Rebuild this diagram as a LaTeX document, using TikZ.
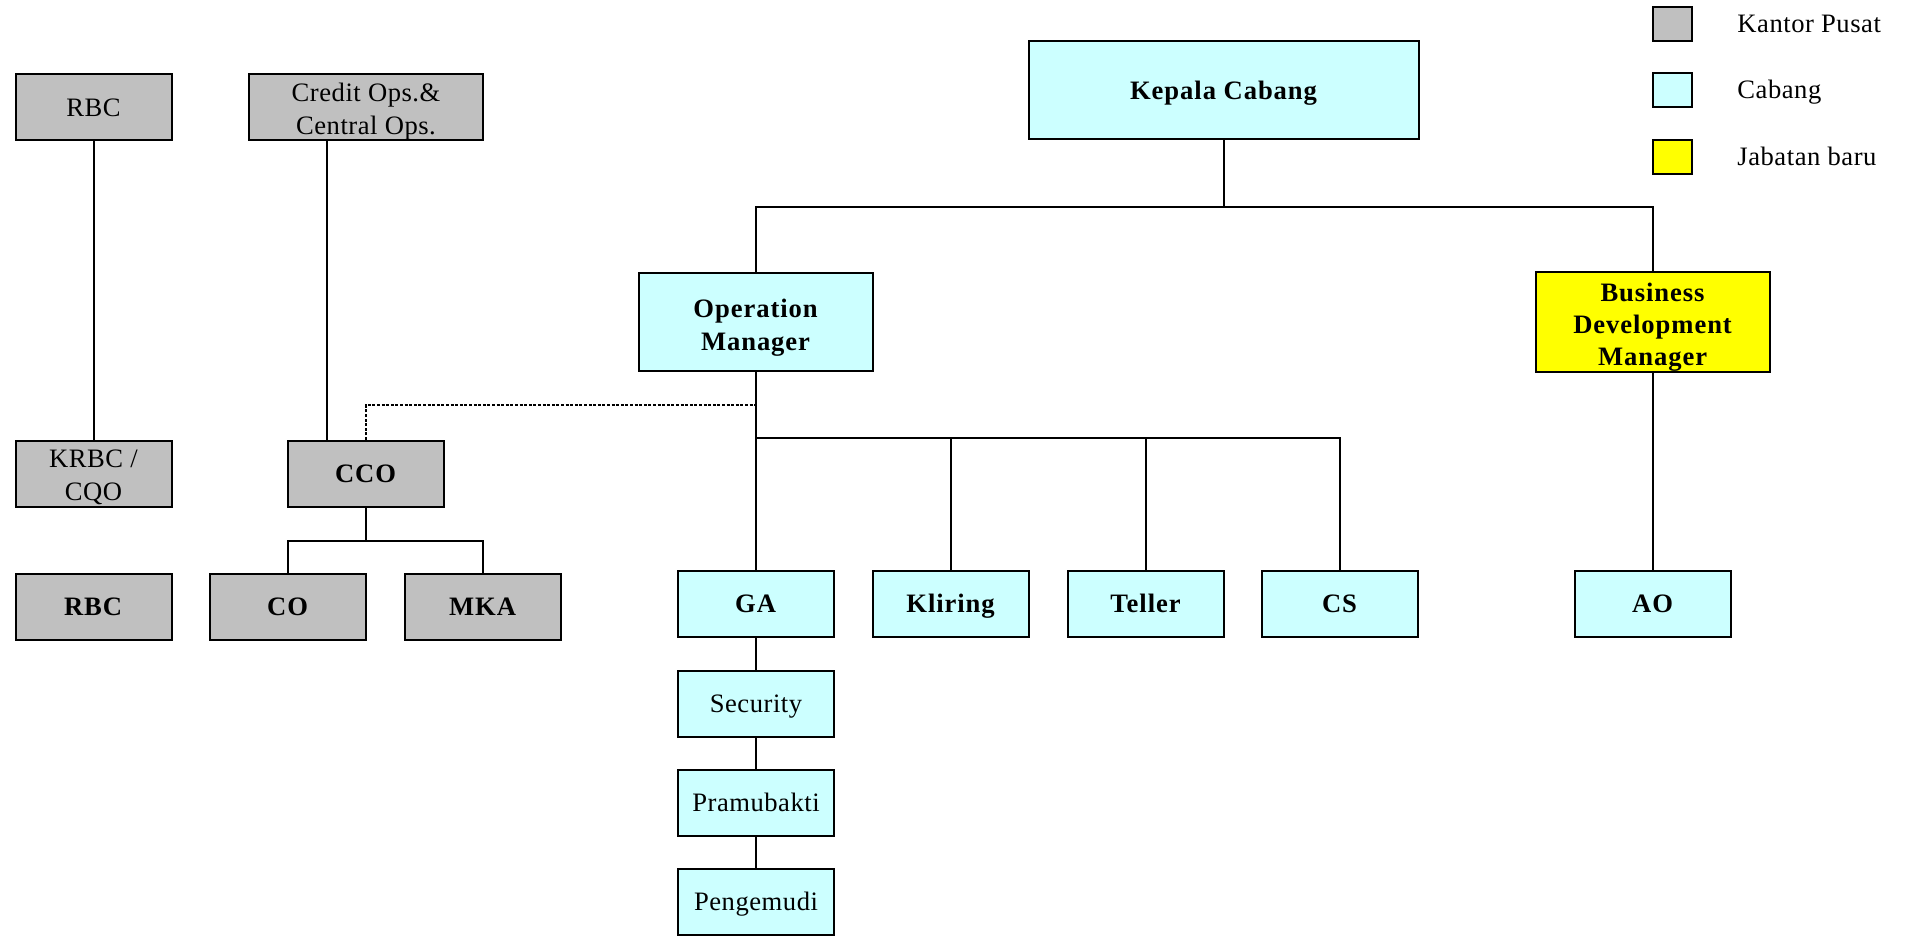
\documentclass[tikz,border=0pt]{standalone}
\usepackage{fontspec}
\setmainfont{Liberation Serif}[LetterSpace=2, BoldFeatures={LetterSpace=3.5}]
\usepackage{tikz}

\definecolor{pusat}{HTML}{C0C0C0}
\definecolor{cabang}{HTML}{CCFFFF}
\definecolor{baru}{HTML}{FFFF00}

% extra room above the first line of a two or three line box
\newcommand\toproom[1][14.6pt]{\rule{0pt}{#1}}

\tikzset{
  struts/.style={execute at begin node={\rule{0pt}{11.8pt}},
    execute at end node={\rule[-3pt]{0pt}{3pt}}},
  unit/.style={draw, line width=1pt, inner sep=0pt, align=center, struts,
    minimum width=78pt, minimum height=33pt,
    font=\fontsize{13.3}{16.5}\selectfont},
  wide/.style={unit, minimum width=117pt, minimum height=49pt},
  hq/.style={unit, fill=pusat},
  br/.style={unit, fill=cabang},
  keybox/.style={draw, line width=1pt, minimum width=19.5pt, minimum height=17pt, inner sep=0pt},
  keytext/.style={anchor=west, inner sep=0pt, struts, font=\fontsize{13.3}{16}\selectfont},
  link/.style={line width=1pt}
}

\begin{document}
\begin{tikzpicture}[x=0.5pt, y=-0.5pt]
	\useasboundingbox (0,0) rectangle (1909,936);

	% legend
	\node [keybox, fill=pusat] (k1) at (1672, 24) {};
	\node [keytext] (k1t) at (1737, 24) {Kantor Pusat};
	\node [keybox, fill=cabang] (k2) at (1672, 90) {};
	\node [keytext] (k2t) at (1737, 90) {Cabang};
	\node [keybox, fill=baru] (k3) at (1672, 157) {};
	\node [keytext] (k3t) at (1737, 157) {Jabatan baru};

	% kantor pusat
	\node [hq] (rbc1) at (93.5, 107.5) {RBC};
	\node [hq, minimum width=117pt] (credit) at (366, 107.5) {\toproom[13.5pt]Credit Ops.\&\\Central Ops.};
	\node [hq] (krbc) at (93.5, 474) {\toproom[13pt]KRBC /\\CQO};
	\node [hq] (cco) at (366, 474) {\textbf{CCO}};
	\node [hq] (rbc2) at (93.5, 606.5) {\textbf{RBC}};
	\node [hq] (co) at (288, 606.5) {\textbf{CO}};
	\node [hq] (mka) at (483, 606.5) {\textbf{MKA}};

	% cabang
	\node [br, minimum width=195pt, minimum height=49pt] (kc) at (1224, 90.5) {\textbf{Kepala Cabang}};
	\node [br, wide] (om) at (756, 322) {\toproom\textbf{Operation}\\\textbf{Manager}};
	\node [wide, fill=baru, font=\fontsize{13.3}{16}\selectfont] (bdm) at (1653, 322)
		{\toproom\textbf{Business}\\\textbf{Development}\\\textbf{Manager}};
	\node [br] (ga) at (756, 604) {\textbf{GA}};
	\node [br] (kliring) at (951, 604) {\textbf{Kliring}};
	\node [br] (teller) at (1146, 604) {\textbf{Teller}};
	\node [br] (cs) at (1340, 604) {\textbf{CS}};
	\node [br] (ao) at (1653, 604) {\textbf{AO}};
	\node [br] (security) at (756, 704) {Security};
	\node [br] (pramu) at (756, 803) {Pramubakti};
	\node [br] (supir) at (756, 902) {Pengemudi};

	\coordinate (kcbus) at (1224, 207);
	\coordinate (ombus) at (756, 438);
	\coordinate (dashj) at (756, 405);
	\coordinate (ccobus) at (366, 541);

	% lines
	\draw [link] (rbc1) -- (krbc);
	\draw [link] ([xshift=-19.5pt]credit.south) -- ([xshift=-19.5pt]cco.north);
	\draw [link] (cco) -- (ccobus);
	\draw [link] (co.north) |- (ccobus) -| (mka.north);
	\draw [link, dash pattern=on 1.5pt off 0.8pt] (cco.north) |- (dashj);

	\draw [link] (kc) -- (kcbus);
	\draw [link] (om.north) |- (kcbus) -| (bdm.north);
	\draw [link] (om) -- (ga);
	\draw [link] (ombus) -| (cs.north);
	\draw [link] (ombus -| kliring) -- (kliring.north);
	\draw [link] (ombus -| teller) -- (teller.north);
	\draw [link] (bdm) -- (ao);
	\draw [link] (ga) -- (security);
	\draw [link] (security) -- (pramu);
	\draw [link] (pramu) -- (supir);

\end{tikzpicture}
\end{document}
